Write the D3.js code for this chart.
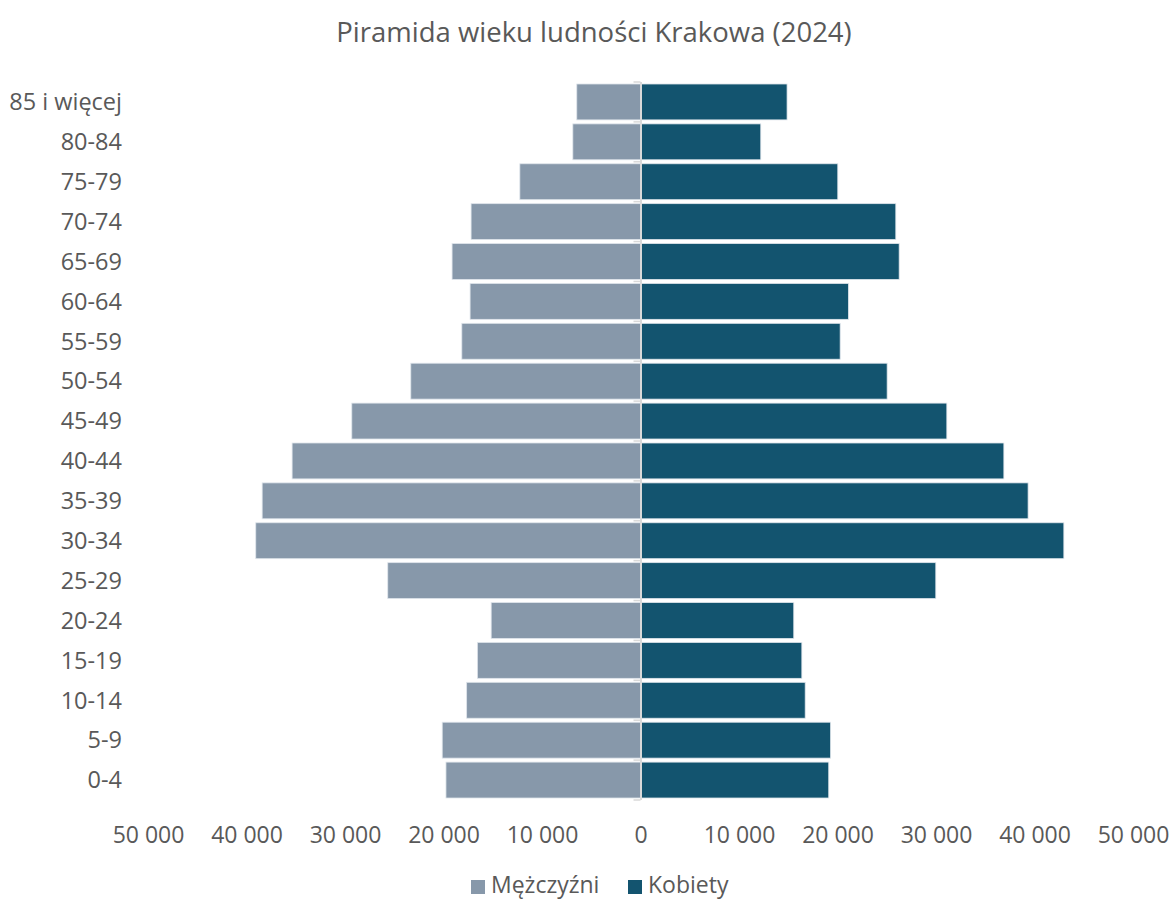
<!DOCTYPE html>
<html>
<head>
<meta charset="utf-8">
<script src="https://cdn.jsdelivr.net/npm/d3@7"></script>
<style>
  html, body { margin: 0; padding: 0; background: #ffffff; }
  svg text { font-family: "Open Sans", "Noto Sans", sans-serif; fill: #595959; }
</style>
</head>
<body>
<svg id="chart" width="1174" height="900"></svg>
<script>
// Age groups, from youngest to oldest
const ageGroups = ["0-4", "5-9", "10-14", "15-19", "20-24", "25-29", "30-34", "35-39",
  "40-44", "45-49", "50-54", "55-59", "60-64", "65-69", "70-74", "75-79", "80-84", "85 i więcej"];

// Population by age group
const men   = [19750, 20130, 17650, 16560, 15160, 25660, 39060, 38410,
  35370, 29310, 23320, 18140, 17300, 19130, 17200, 12250, 6870, 6470];
const women = [19110, 19300, 16720, 16380, 15560, 29980, 42980, 39350,
  36890, 31100, 25040, 20270, 21110, 26260, 25920, 20030, 12210, 14880];

const xTicks = [-50000, -40000, -30000, -20000, -10000, 0, 10000, 20000, 30000, 40000, 50000];
const seriesNames = ["Mężczyźni", "Kobiety"];
const seriesColors = ["#8798aa", "#13546f"];

const svg = d3.select("#chart");

const x = d3.scaleLinear().domain([-50000, 50000]).range([148, 1133]);
const y = d3.scaleBand()
  .domain(ageGroups.slice().reverse())
  .range([82, 800])
  .paddingInner(0.1)
  .paddingOuter(0.05);

const pl = d3.formatLocale({ decimal: ",", thousands: " ", grouping: [3], currency: ["", " zł"] });
const fmt = pl.format(",d");

// Title
svg.append("text")
  .attr("x", 594).attr("y", 42)
  .attr("text-anchor", "middle")
  .style("font-size", "27.5px")
  .text("Piramida wieku ludności Krakowa (2024)");

// Bars
const rows = ageGroups.map((g, i) => ({ group: g, m: men[i], w: women[i] }));

svg.append("g").selectAll("rect").data(rows).join("rect")
  .attr("x", d => x(-d.m))
  .attr("width", d => x(0) - x(-d.m))
  .attr("y", d => y(d.group))
  .attr("height", y.bandwidth())
  .attr("fill", seriesColors[0])
  .attr("stroke", "#dfe5eb").attr("stroke-width", 0.8);

svg.append("g").selectAll("rect").data(rows).join("rect")
  .attr("x", x(0) + 1)
  .attr("width", d => x(d.w) - x(0) - 1)
  .attr("y", d => y(d.group))
  .attr("height", y.bandwidth())
  .attr("fill", seriesColors[1])
  .attr("stroke", "#dfe5eb").attr("stroke-width", 0.8);

// Vertical zero axis with ticks between categories
const axisG = svg.append("g");
const step = y.step();
const y0 = y.range()[0];
const bounds = d3.range(ageGroups.length + 1).map(i => y0 + i * step);
axisG.selectAll("line.tick").data(bounds).join("line")
  .attr("class", "tick")
  .attr("x1", x(0) - 7).attr("x2", x(0))
  .attr("y1", d => d).attr("y2", d => d)
  .attr("stroke", "#d9d9d9").attr("stroke-width", 1.5);
axisG.append("line")
  .attr("x1", x(0) + 0.5).attr("x2", x(0) + 0.5)
  .attr("y1", y.range()[0]).attr("y2", y.range()[1])
  .attr("stroke", "#d9d9d9").attr("stroke-width", 2);

// Category labels
const yAxis = svg.append("g")
  .attr("transform", "translate(122,0)")
  .call(d3.axisLeft(y).tickSize(0).tickPadding(0));
yAxis.select(".domain").remove();
yAxis.selectAll("text")
  .style("font-size", "23.5px")
  .attr("fill", "#595959")
  .attr("dy", "0.35em");

// Value axis
const xAxis = svg.append("g")
  .attr("transform", "translate(0,820)")
  .call(d3.axisBottom(x).tickValues(xTicks).tickSize(0).tickPadding(0)
    .tickFormat(d => fmt(Math.abs(d))));
xAxis.select(".domain").remove();
xAxis.selectAll("text")
  .style("font-size", "23px")
  .attr("fill", "#595959")
  .attr("dy", "1em");

// Legend
const legend = svg.append("g");
const legendItems = [
  { name: seriesNames[0], color: seriesColors[0], x: 471 },
  { name: seriesNames[1], color: seriesColors[1], x: 628 }
];
const li = legend.selectAll("g").data(legendItems).join("g")
  .attr("transform", d => `translate(${d.x},0)`);
li.append("rect")
  .attr("x", 0).attr("y", 880).attr("width", 14).attr("height", 14)
  .attr("fill", d => d.color);
li.append("text")
  .attr("x", 20).attr("y", 893)
  .style("font-size", "23px")
  .text(d => d.name);
</script>
</body>
</html>
